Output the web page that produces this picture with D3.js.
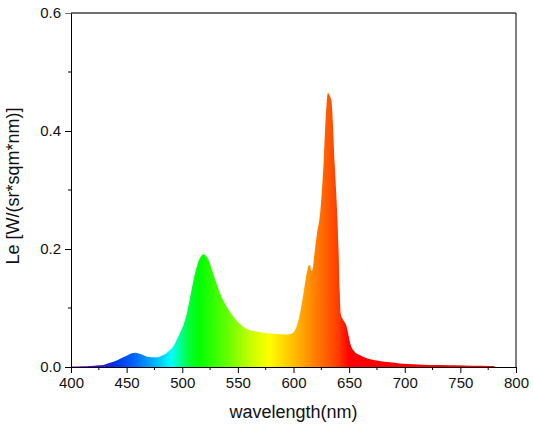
<!DOCTYPE html>
<html>
<head>
<meta charset="utf-8">
<script src="https://cdn.jsdelivr.net/npm/d3@7"></script>
<style>
  body { margin: 0; background: #fff; }
  text { font-family: "Liberation Sans", Arial, sans-serif; }
</style>
</head>
<body>
<div id="chart"></div>
<script>
// spectrum: wavelength (nm) and radiance
const wavelengths = [400, 410, 417, 425, 430, 435, 440, 445, 450, 454, 458, 461, 465, 470, 475,
  480, 484, 488, 492, 496, 500, 504, 508, 511, 514, 517, 519, 521, 524, 527, 530, 534, 540,
  547, 555, 562, 567, 575, 585, 593, 597, 600, 603, 606, 609, 612, 614, 615, 616, 617, 619,
  621, 624, 627, 629, 631, 632, 634, 637, 640.5, 641.5, 642.5, 644, 646, 647.5, 649, 651,
  655, 660, 666, 672, 680, 687, 695, 702, 715, 731, 745, 761, 775, 780, 781];
const radiance = [0.0008, 0.0012, 0.0017, 0.003, 0.004, 0.007, 0.010, 0.015, 0.019, 0.023,
  0.024, 0.023, 0.020, 0.017, 0.0165, 0.018, 0.021, 0.027, 0.035, 0.050, 0.066, 0.090, 0.127,
  0.155, 0.176, 0.188, 0.191, 0.189, 0.180, 0.163, 0.146, 0.125, 0.102, 0.083, 0.068, 0.062,
  0.060, 0.057, 0.056, 0.055, 0.056, 0.059, 0.070, 0.092, 0.125, 0.160, 0.173, 0.172, 0.163,
  0.165, 0.195, 0.225, 0.262, 0.345, 0.425, 0.465, 0.462, 0.452, 0.345, 0.200, 0.130,
  0.090, 0.082, 0.076, 0.070, 0.058, 0.040, 0.026, 0.020, 0.015, 0.012, 0.0095, 0.008, 0.006,
  0.005, 0.004, 0.0034, 0.0028, 0.0022, 0.0018, 0.0015, 0];

// colour of the fill along the wavelength axis
const stopWavelengths = [400, 420, 440, 460, 480, 490, 505, 515, 540, 560, 578, 600, 620, 640, 650, 800];
const stopColors = ["#8a00c8", "#4a00d8", "#0032e6", "#0070ff", "#00ccff", "#00ffff", "#00ff40",
  "#00ff00", "#60ff00", "#c0ff00", "#ffff00", "#ffbe00", "#ff7e00", "#ff3c00", "#ff0000", "#ff0000"];

const xMajor = [400, 450, 500, 550, 600, 650, 700, 750, 800];
const xMinor = [425, 475, 525, 575, 625, 675, 725, 775];
const yMajor = [0, 0.2, 0.4, 0.6];
const yMinor = [0.1, 0.3, 0.5];

const data = wavelengths.map((w, i) => ({ w: w, v: radiance[i] }));

const W = 533, H = 430;
const margin = { top: 13, right: 17, bottom: 63, left: 71 },
      width = W - margin.left - margin.right,
      height = H - margin.top - margin.bottom;

const svg = d3.select("#chart")
  .append("svg")
  .attr("width", W)
  .attr("height", H);

const g = svg.append("g")
  .attr("transform", `translate(${margin.left},${margin.top})`);

const x = d3.scaleLinear().domain([400, 800]).range([0, width]);
const y = d3.scaleLinear().domain([0, 0.6]).range([height, 0]);

// gradient
const grad = svg.append("defs").append("linearGradient")
  .attr("id", "spectrum")
  .attr("gradientUnits", "userSpaceOnUse")
  .attr("x1", x(400)).attr("x2", x(800))
  .attr("y1", 0).attr("y2", 0);

grad.selectAll("stop")
  .data(stopWavelengths)
  .join("stop")
  .attr("offset", d => (d - 400) / 400)
  .attr("stop-color", (d, i) => stopColors[i]);

const area = d3.area()
  .x(d => x(d.w))
  .y0(y(0))
  .y1(d => y(d.v))
  .curve(d3.curveMonotoneX);

g.append("path")
  .datum(data)
  .attr("d", area)
  .attr("fill", "url(#spectrum)");

// frame: top grey, right black
g.append("line")
  .attr("x1", 0).attr("x2", width)
  .attr("y1", 0).attr("y2", 0)
  .attr("stroke", "#707070")
  .attr("stroke-width", 2);

g.append("line")
  .attr("x1", width).attr("x2", width)
  .attr("y1", 0).attr("y2", height)
  .attr("stroke", "#000")
  .attr("stroke-width", 1);

// axes
const xAxis = g.append("g")
  .attr("transform", `translate(0,${height})`)
  .call(d3.axisBottom(x).tickValues(xMajor).tickSize(6).tickSizeOuter(0).tickPadding(4));

g.append("g")
  .attr("transform", `translate(0,${height})`)
  .selectAll("line")
  .data(xMinor)
  .join("line")
  .attr("x1", d => x(d)).attr("x2", d => x(d))
  .attr("y1", 0).attr("y2", 3)
  .attr("stroke", "#000");

const yAxis = g.append("g")
  .call(d3.axisLeft(y).tickValues(yMajor).tickFormat(d3.format(".1f"))
    .tickSize(6).tickSizeOuter(0).tickPadding(4));

g.append("g")
  .selectAll("line")
  .data(yMinor)
  .join("line")
  .attr("x1", 0).attr("x2", -3)
  .attr("y1", d => y(d)).attr("y2", d => y(d))
  .attr("stroke", "#000");

[xAxis, yAxis].forEach(a => {
  a.select(".domain").attr("stroke", "#000");
  a.selectAll(".tick text")
    .style("font-size", "15px")
    .attr("fill", "#111");
});

yAxis.selectAll(".tick").filter(d => d === 0.6).select("line").attr("stroke", "#707070");

// axis labels
g.append("text")
  .attr("x", width / 2)
  .attr("y", height + 51)
  .attr("text-anchor", "middle")
  .style("font-size", "18px")
  .attr("fill", "#111")
  .text("wavelength(nm)");

g.append("text")
  .attr("transform", "rotate(-90)")
  .attr("x", -(height / 2) + 4)
  .attr("y", -52)
  .attr("text-anchor", "middle")
  .style("font-size", "18px")
  .attr("fill", "#111")
  .text("Le [W/(sr*sqm*nm)]");
</script>
</body>
</html>
